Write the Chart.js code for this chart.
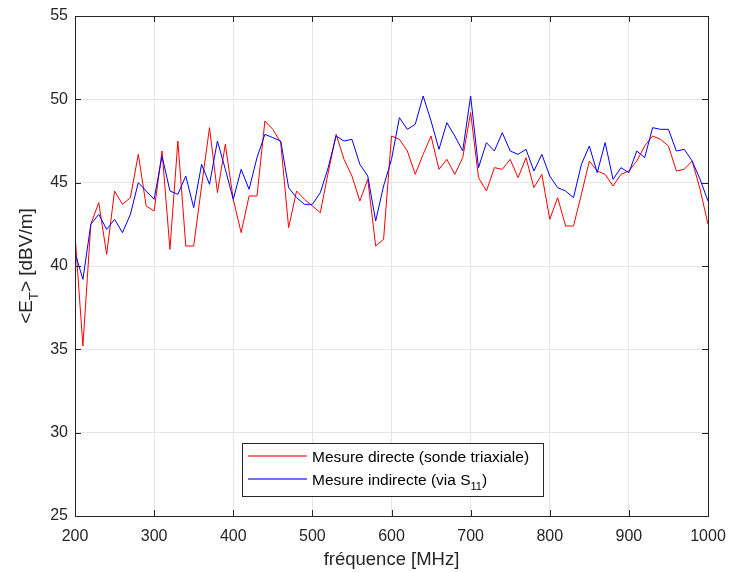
<!DOCTYPE html>
<html>
<head>
<meta charset="utf-8">
<script src="https://cdn.jsdelivr.net/npm/chart.js@4.4.0/dist/chart.umd.min.js"></script>
<style>
  html, body { margin: 0; padding: 0; background: #ffffff; }
  #chart { display: block; }
</style>
</head>
<body>
<canvas id="chart" width="729" height="572"></canvas>
<script>
// fréquences [MHz]
const freq = [200, 210, 220, 230, 240, 250, 260, 270, 280, 290,
              300, 310, 320, 330, 340, 350, 360, 370, 380, 390,
              400, 410, 420, 430, 440, 450, 460, 470, 480, 490,
              500, 510, 520, 530, 540, 550, 560, 570, 580, 590,
              600, 610, 620, 630, 640, 650, 660, 670, 680, 690,
              700, 710, 720, 730, 740, 750, 760, 770, 780, 790,
              800, 810, 820, 830, 840, 850, 860, 870, 880, 890,
              900, 910, 920, 930, 940, 950, 960, 970, 980, 990,
              1000];

// mesure directe (sonde triaxiale)
const mesureDirecte = [41.9, 35.2, 42.5, 43.8, 40.7, 44.5, 43.7, 44.1, 46.7, 43.6,
                       43.3, 46.9, 41.0, 47.5, 41.2, 41.2, 44.8, 48.3, 44.4, 47.3,
                       44.0, 42.0, 44.2, 44.2, 48.7, 48.2, 47.4, 42.3, 44.5, 44.0,
                       43.6, 43.2, 45.6, 47.9, 46.4, 45.4, 43.9, 45.2, 41.2, 41.6,
                       47.8, 47.6, 46.9, 45.5, 46.7, 47.8, 45.8, 46.4, 45.5, 46.5,
                       49.2, 45.3, 44.5, 45.9, 45.8, 46.4, 45.3, 46.5, 44.7, 45.5,
                       42.8, 44.1, 42.4, 42.4, 44.3, 46.3, 45.7, 45.5, 44.8, 45.5,
                       45.7, 46.3, 47.2, 47.8, 47.6, 47.2, 45.7, 45.8, 46.3, 44.6,
                       42.5];

// mesure indirecte (via S11)
const mesureIndirecte = [40.8, 39.2, 42.5, 43.1, 42.2, 42.8, 42.0, 43.1, 45.0, 44.5,
                         44.0, 46.6, 44.5, 44.3, 45.4, 43.5, 46.1, 44.9, 47.5, 45.8,
                         44.0, 45.8, 44.6, 46.5, 47.9, 47.7, 47.5, 44.7, 44.1, 43.7,
                         43.7, 44.4, 45.9, 47.8, 47.5, 47.6, 46.1, 45.4, 42.7, 44.8,
                         46.4, 48.9, 48.2, 48.5, 50.2, 48.7, 47.0, 48.6, 47.8, 46.9,
                         50.2, 45.9, 47.4, 46.9, 48.0, 46.9, 46.7, 47.0, 45.7, 46.7,
                         45.4, 44.7, 44.5, 44.1, 46.1, 47.2, 45.6, 47.4, 45.2, 45.9,
                         45.6, 46.9, 46.5, 48.3, 48.2, 48.2, 46.9, 47.0, 46.3, 45.2,
                         43.9];

const xTicks = [200, 300, 400, 500, 600, 700, 800, 900, 1000];
const yTicks = [25, 30, 35, 40, 45, 50, 55];

const FONT = "'Liberation Sans', Arial, Helvetica, sans-serif";
const AXIS_COLOR = '#262626';
const GRID_COLOR = '#e6e6e6';

const toPoints = (xs, ys) => xs.map((x, i) => ({ x: x, y: ys[i] }));

// cadre, graduations internes, titre Y et légende façon MATLAB
const matlabDecor = {
    id: 'matlabDecor',
    afterDraw(chart) {
        const ctx = chart.ctx;
        const a = chart.chartArea;
        const xs = chart.scales.x;
        const ys = chart.scales.y;
        const tl = 6;

        ctx.save();
        ctx.strokeStyle = AXIS_COLOR;
        ctx.lineWidth = 1;
        ctx.beginPath();
        // graduations
        xTicks.forEach(v => {
            const px = Math.round(xs.getPixelForValue(v)) + 0.5;
            ctx.moveTo(px, a.bottom); ctx.lineTo(px, a.bottom - tl);
            ctx.moveTo(px, a.top); ctx.lineTo(px, a.top + tl);
        });
        yTicks.forEach(v => {
            const py = Math.round(ys.getPixelForValue(v)) + 0.5;
            ctx.moveTo(a.left, py); ctx.lineTo(a.left + tl, py);
            ctx.moveTo(a.right, py); ctx.lineTo(a.right - tl, py);
        });
        ctx.stroke();
        // cadre
        ctx.strokeRect(Math.round(a.left) + 0.5, Math.round(a.top) + 0.5,
                       Math.round(a.right - a.left), Math.round(a.bottom - a.top));

        // titre Y : <E_T> [dBV/m]
        const big = '19px ' + FONT;
        const sub = '13px ' + FONT;
        const parts = [
            { t: '<E', f: big, dy: 0 },
            { t: 'T', f: sub, dy: 6 },
            { t: '> [dBV/m]', f: big, dy: 0 }
        ];
        let w = 0;
        parts.forEach(p => { ctx.font = p.f; p.w = ctx.measureText(p.t).width; w += p.w; });
        ctx.translate(32, (a.top + a.bottom) / 2);
        ctx.rotate(-Math.PI / 2);
        ctx.fillStyle = AXIS_COLOR;
        ctx.textBaseline = 'alphabetic';
        ctx.textAlign = 'left';
        let cx = -w / 2;
        parts.forEach(p => { ctx.font = p.f; ctx.fillText(p.t, cx, p.dy); cx += p.w; });
        ctx.restore();

        // légende
        ctx.save();
        const box = { x: 242.5, y: 443.5, w: 301, h: 53 };
        ctx.fillStyle = '#ffffff';
        ctx.fillRect(box.x, box.y, box.w, box.h);
        ctx.strokeStyle = AXIS_COLOR;
        ctx.lineWidth = 1;
        ctx.strokeRect(box.x, box.y, box.w, box.h);
        const rows = [
            { ds: chart.data.datasets[0], y: 456, sub: null },
            { ds: chart.data.datasets[1], y: 479, sub: '11' }
        ];
        rows.forEach(r => {
            ctx.save();
            ctx.globalAlpha = 0.75;
            ctx.strokeStyle = r.ds.borderColor;
            ctx.lineWidth = 1.5;
            ctx.beginPath();
            ctx.moveTo(248, r.y);
            ctx.lineTo(307, r.y);
            ctx.stroke();
            ctx.restore();
            ctx.fillStyle = '#000000';
            ctx.textBaseline = 'alphabetic';
            ctx.textAlign = 'left';
            ctx.font = '15.5px ' + FONT;
            let label = r.ds.label;
            let tail = '';
            if (r.sub) {
                const k = label.indexOf('S' + r.sub);
                tail = label.slice(k + 1 + r.sub.length);
                label = label.slice(0, k + 1);
            }
            ctx.fillText(label, 312, r.y + 5.5);
            if (r.sub) {
                let px = 312 + ctx.measureText(label).width;
                ctx.font = '11px ' + FONT;
                ctx.fillText(r.sub, px, r.y + 10.5);
                px += ctx.measureText(r.sub).width;
                ctx.font = '15.5px ' + FONT;
                ctx.fillText(tail, px, r.y + 5.5);
            }
        });
        ctx.restore();
    }
};

const bgPlugin = {
    id: 'bg',
    beforeDraw(chart) {
        const ctx = chart.ctx;
        ctx.save();
        ctx.fillStyle = '#ffffff';
        ctx.fillRect(0, 0, chart.width, chart.height);
        ctx.restore();
    }
};

const ctx = document.getElementById('chart').getContext('2d');
const myChart = new Chart(ctx, {
    type: 'line',
    data: {
        datasets: [
            {
                label: 'Mesure directe (sonde triaxiale)',
                data: toPoints(freq, mesureDirecte),
                borderColor: '#ff0000',
                borderWidth: 1,
                pointRadius: 0,
                tension: 0,
                fill: false,
                order: 1
            },
            {
                label: 'Mesure indirecte (via S11)',
                data: toPoints(freq, mesureIndirecte),
                borderColor: '#0000ff',
                borderWidth: 1,
                pointRadius: 0,
                tension: 0,
                fill: false,
                order: 0
            }
        ]
    },
    options: {
        responsive: false,
        devicePixelRatio: 1,
        animation: false,
        layout: { padding: { left: 0, top: 16, right: 21, bottom: 0 } },
        plugins: {
            legend: { display: false },
            tooltip: { enabled: false }
        },
        scales: {
            x: {
                type: 'linear',
                min: 200,
                max: 1000,
                afterBuildTicks: s => { s.ticks = xTicks.map(v => ({ value: v })); },
                afterFit: s => { s.height = 56; s.paddingLeft = 0; s.paddingRight = 0; },
                ticks: {
                    color: AXIS_COLOR,
                    font: { family: FONT, size: 16 },
                    padding: 11,
                    maxRotation: 0,
                    callback: v => String(v)
                },
                grid: { color: GRID_COLOR, drawTicks: false },
                border: { display: false },
                title: {
                    display: true,
                    text: 'fréquence [MHz]',
                    color: AXIS_COLOR,
                    font: { family: FONT, size: 18.5 },
                    padding: { top: 0, bottom: 1 }
                }
            },
            y: {
                type: 'linear',
                min: 25,
                max: 55,
                afterBuildTicks: s => { s.ticks = yTicks.map(v => ({ value: v })); },
                afterFit: s => { s.width = 75; s.paddingTop = 0; s.paddingBottom = 0; },
                ticks: {
                    color: AXIS_COLOR,
                    font: { family: FONT, size: 16 },
                    padding: 7,
                    callback: v => String(v)
                },
                grid: { color: GRID_COLOR, drawTicks: false },
                border: { display: false }
            }
        }
    },
    plugins: [bgPlugin, matlabDecor]
});
</script>
</body>
</html>
